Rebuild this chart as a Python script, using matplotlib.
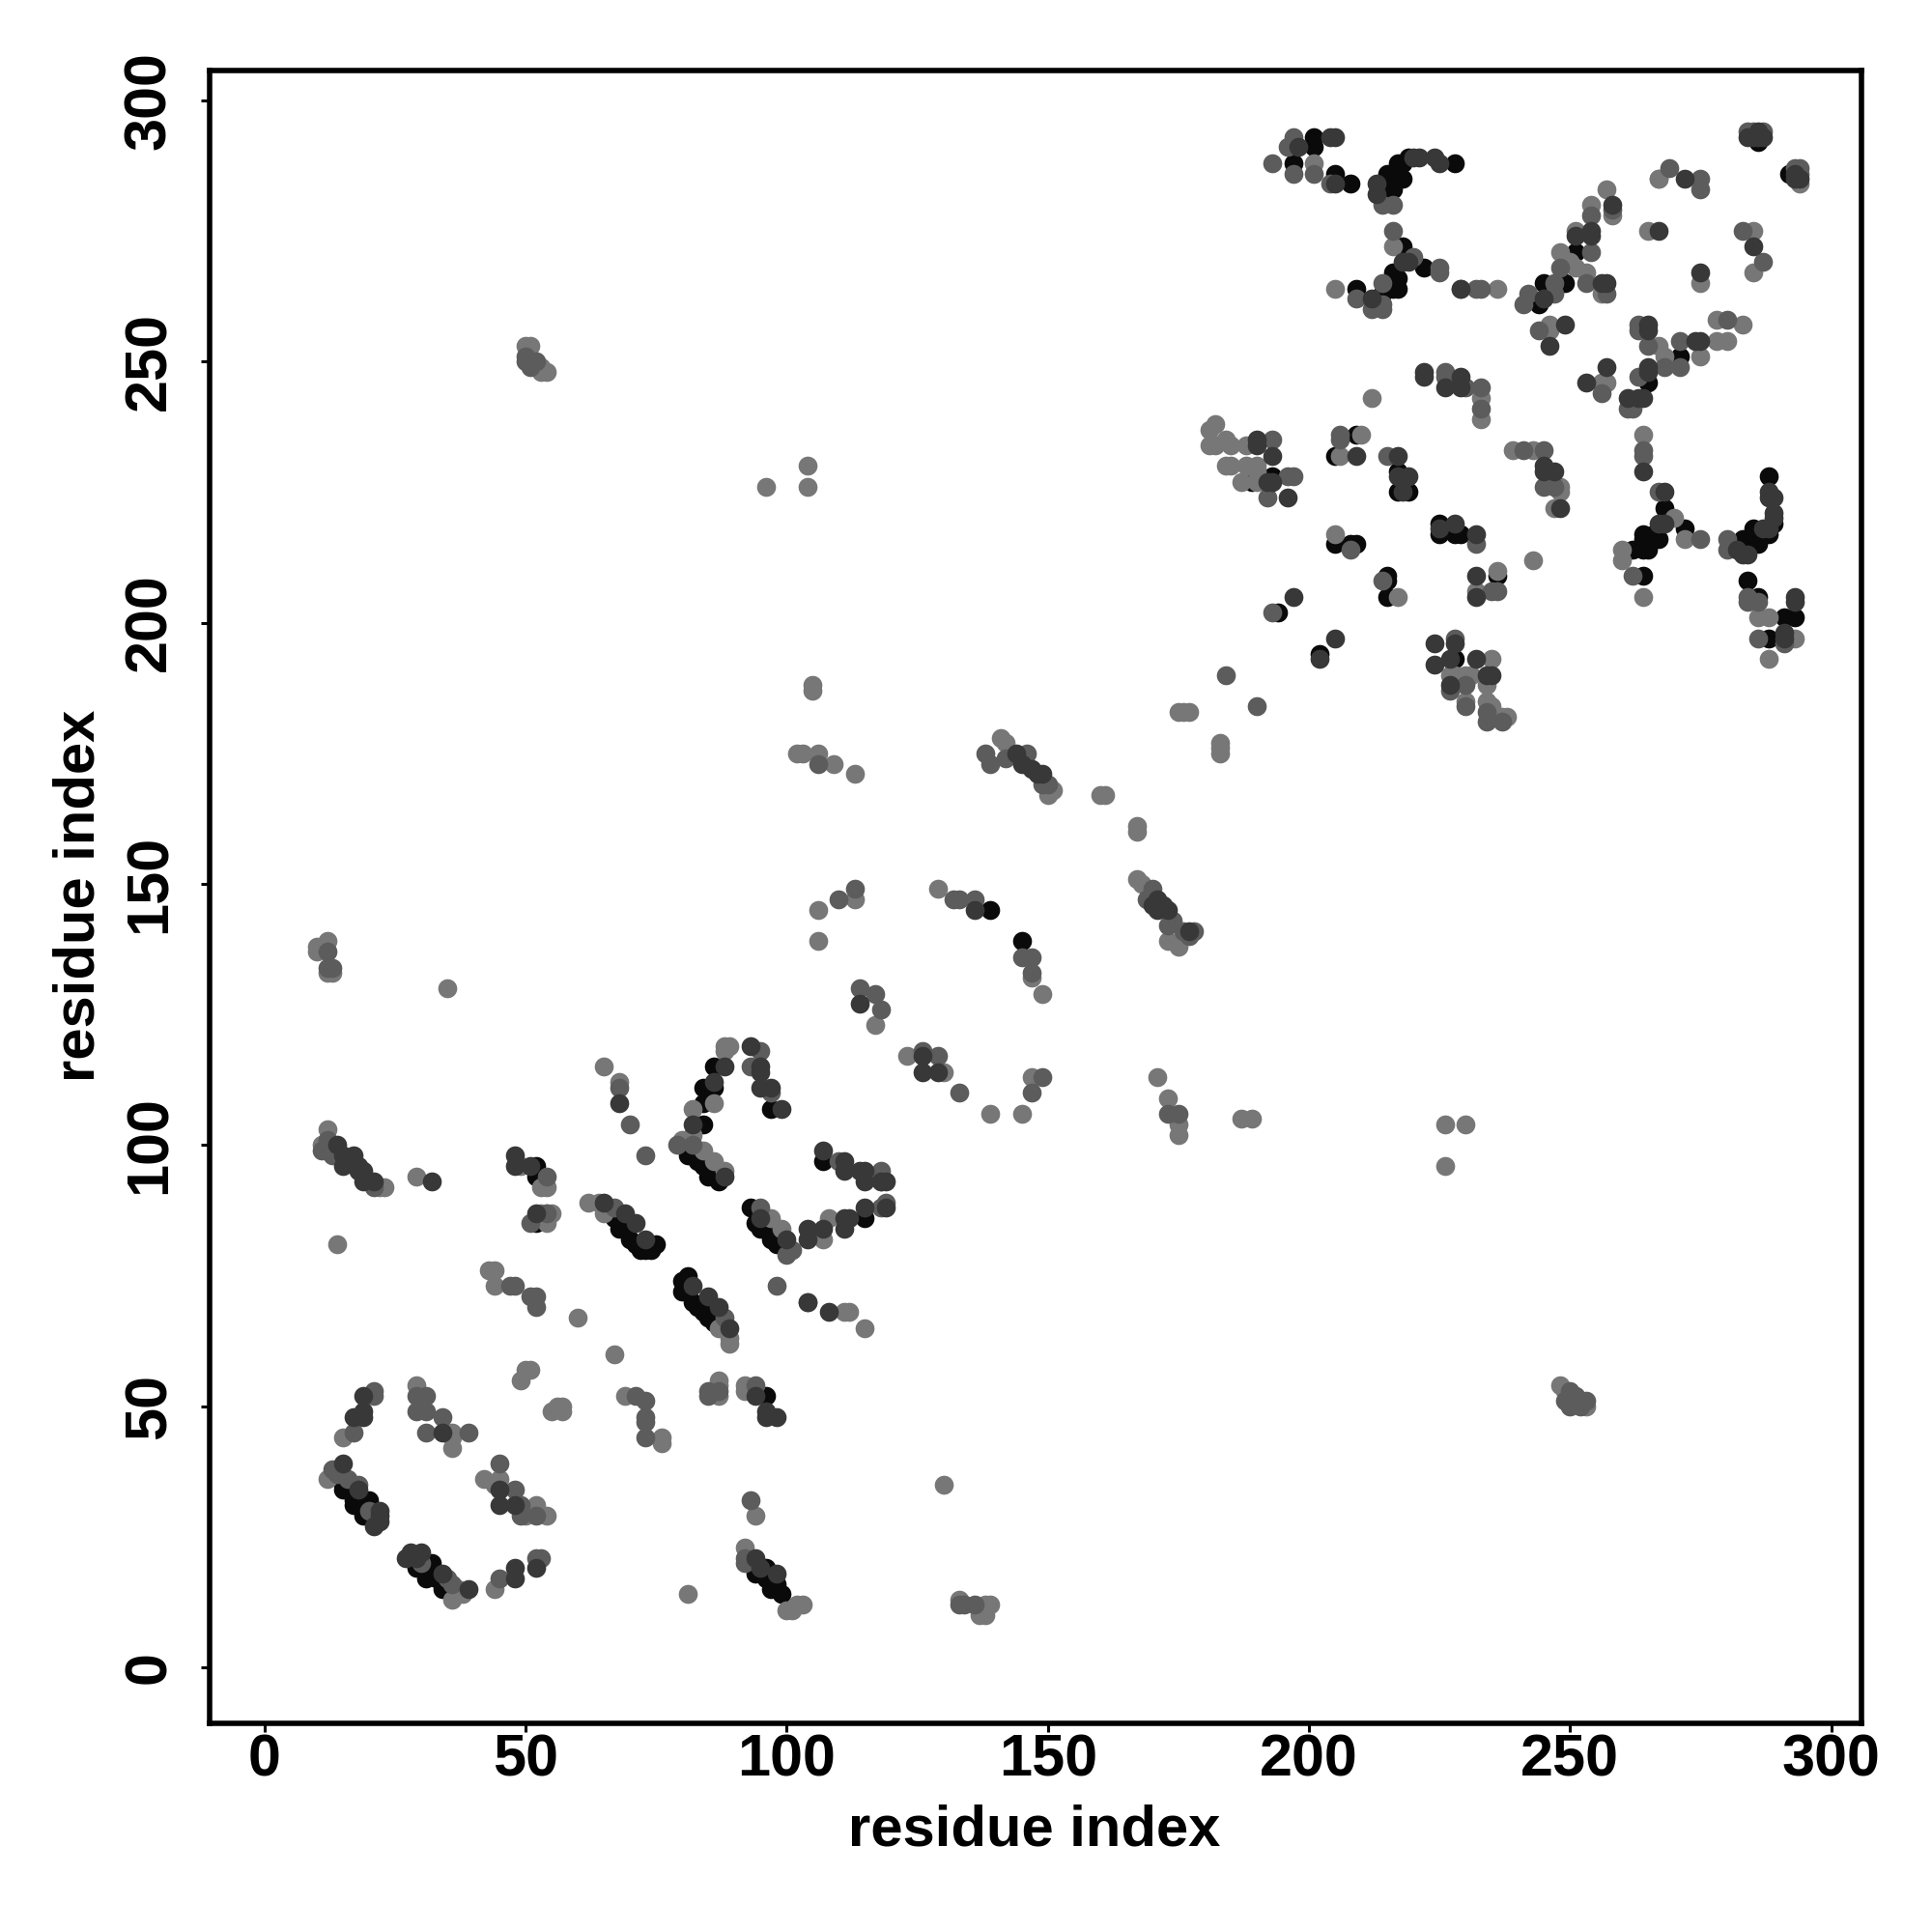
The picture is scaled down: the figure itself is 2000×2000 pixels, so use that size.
import numpy as np
import matplotlib
matplotlib.use('Agg')
import matplotlib.pyplot as plt

# contacts (residue i, residue j), grouped by how dark the dot is
black_pts = [(15,35),(15,34),(19,32),(20,32),(17,31),(19,29),(17,32),(16,34),(18,32),(18,31),(29,19),(32,20),(32,18),(31,17),(34,15),(30,19),(33,17),
    (52,96),(52,94),(52,85),(67,86),(68,84),(70,82),(72,80),(75,81),(74,80),(66,87),(69,84),(71,81),(73,80),(81,75),(80,74),(80,72),(82,70),(84,68),(86,66),(81,72),(83,69),(85,67),
    (81,98),(84,104),(84,108),(84,111),(86,111),(86,115),(84,96),(85,94),(87,93),(83,97),(86,94),(97,107),(107,97),(93,88),(94,85),(96,84),(98,81),(95,84),(97,82),
    (115,86),(96,52),(145,139),(139,145),(96,19),(94,18),(96,17),(98,16),(99,14),(97,15),
    (197,288),(201,293),(201,291),(205,286),(208,284),(228,288),(219,289),(218,288),(217,288),(218,285),(215,286),(216,283),(214,283),
    (218,272),(222,268),(216,267),(217,266),(215,265),(217,264),(214,263),(209,264),(216,264),(244,261),(245,265),(249,265),(251,271),(271,251),(265,246),
    (193,228),(189,227),(209,236),(205,232),(217,229),(217,225),(219,225),
    (268,222),(272,218),(264,217),(266,217),(265,215),(264,214),(262,214),(264,216),(267,216),(265,214),(264,209),
    (283,216),(285,218),(285,215),(286,215),(288,217),(289,219),(288,228),(284,208),(286,205),(288,197),(291,201),(293,201),(286,292),(292,286),
    (194,202),(202,194),(205,215),(208,215),(209,215),(215,209),(215,208),(215,205),(225,219),(225,217),(228,217),(229,217),(236,209),(228,193)]

light_pts = [(14,81),(43,76),(44,76),(44,73),(60,67),(67,60),(50,57),(49,55),(51,57),(57,50),(55,49),(57,49),(56,50),
    (69,52),(76,44),(76,43),(87,55),(87,54),(87,52),(92,53),(92,54),(15,44),(29,54),(36,45),(36,44),(36,42),(12,36),(42,36),(45,36),(44,35),
    (52,31),(50,29),(54,29),(37,15),(36,13),(38,14),(44,15),(81,14),(65,115),(68,112),(49,96),(54,92),(53,92),(54,87),(55,87),(54,85),(53,87),
    (62,89),(64,89),(65,87),(87,65),(89,62),(89,63),(80,101),(82,102),(82,107),(86,108),(84,99),(86,97),(88,95),(88,119),(89,119),(88,118),
    (97,86),(99,84),(107,82),(108,86),(111,68),(112,68),(115,65),(96,226),(104,230),(104,226),(105,188),(105,187),(102,175),(103,175),(106,175),(109,173),(113,171),
    (106,139),(106,145),(113,147),(117,123),(123,117),(130,114),(139,106),(145,106),(147,113),(129,149),(147,132),(149,129),(141,178),(142,177),
    (150,167),(151,168),(160,167),(161,167),(167,161),(167,160),(167,151),(168,150),(173,139),(175,138),(171,113),(173,109),(175,102),(175,104),(187,105),(189,105),
    (226,104),(230,104),(226,96),(248,54),(249,53),(253,50),(10,137),(10,138),(12,139),(12,133),(13,133),(35,130),(12,103),(11,100),(23,92),(22,92),(29,94),
    (50,253),(51,253),(54,248),(53,248),(53,249),(130,35),(94,29),(92,23),(100,11),(101,11),(102,12),(103,12),(133,13),(137,10),(138,10),(139,12),(138,12),
    (201,288),(205,264),(216,272),(236,264),(248,271),(251,275),(250,269),(251,268),(253,267),(254,280),(257,283),(258,278),(256,263),(267,285),
    (265,275),(275,265),(285,275),(285,267),(294,284),(246,257),(246,256),(267,253),(268,251),(278,254),(280,254),(278,258),(283,257),(275,251),
    (256,246),(257,246),(182,238),(181,237),(181,234),(182,234),(184,235),(185,234),(188,234),(184,230),(185,230),(188,230),(190,230),(190,229),(187,227),(190,227),
    (212,243),(206,232),(210,236),(233,243),(233,239),(239,233),(243,233),(248,226),(248,225),(247,222),(243,212),(264,236),(267,285),
    (270,220),(272,216),(260,214),(260,212),(264,205),(286,201),(288,201),(288,193),(293,197),(205,217),(217,205),(236,210),(232,206),
    (235,193),(227,190),(230,190),(228,190),(231,190),(234,188),(230,185),(234,185),(235,184),(238,182),(237,182),(177,183),(176,183),(175,183),(183,177),(183,175),(183,176)]

mid_pts = [(51,85),(54,87),(47,73),(48,73),(51,71),(52,71),(52,69),(71,52),(73,51),(73,48),(73,47),(73,44),(85,53),(85,52),(87,53),
    (21,53),(21,52),(17,45),(29,52),(31,52),(29,49),(31,49),(34,48),(31,45),(39,45),(45,39),(48,34),(49,31),(49,29),(52,29),
    (14,37),(16,36),(13,38),(18,35),(20,30),(30,20),(35,17),(36,16),(45,17),(52,21),(53,21),(68,111),(70,104),(73,98),(54,94),(67,88),
    (79,100),(82,100),(88,67),(94,54),(93,115),(95,118),(97,110),(110,97),(118,95),(118,93),(95,88),(100,79),(101,80),(118,88),(119,89),(98,73),
    (106,173),(110,147),(113,149),(114,130),(117,129),(118,126),(126,118),(129,117),(133,110),(147,110),(149,113),(132,147),(133,147),(136,147),(145,136),(147,136),(147,133),
    (138,175),(139,173),(142,174),(146,175),(150,169),(149,169),(170,149),(169,147),(173,142),(174,143),(176,141),(178,141),(177,140),(173,106),(175,106),
    (249,51),(250,50),(250,53),(251,52),(252,50),(253,51),(12,137),(12,134),(13,134),(11,99),(12,101),(12,100),(13,100),(13,98),(21,92),
    (50,251),(50,250),(51,250),(52,250),(51,249),(93,32),(92,20),(92,21),(104,70),(133,12),(134,12),(136,12),
    (193,288),(197,293),(196,291),(197,286),(201,286),(204,284),(216,275),(220,270),(225,268),(225,267),(214,280),(216,280),(214,265),(212,260),(214,260),(214,261),
    (209,262),(229,264),(232,264),(233,264),(241,261),(242,263),(247,263),(247,265),(248,268),(253,265),(254,271),(254,278),(258,279),(257,263),(269,287),(275,285),(275,283),
    (283,275),(287,269),(287,294),(284,294),(285,294),(294,287),(294,286),(293,287),(244,256),(263,257),(263,256),(265,253),(271,254),(280,258),(271,249),(268,249),(263,247),(261,241),(262,241),(256,244),
    (193,235),(196,228),(197,228),(192,224),(206,236),(206,235),(215,232),(226,248),(226,247),(230,245),(233,245),(233,241),(241,233),(245,233),(245,226),(247,226),(264,233),(264,232),
    (267,225),(275,216),(280,216),(280,214),(262,209),(284,205),(284,204),(286,204),(286,197),(291,196),(193,202),(184,190),(190,184),(208,214),(214,208),(232,215),
    (235,206),(236,206),(228,197),(227,187),(230,188),(230,184),(234,183),(234,181),(237,181)]

dark_pts = [(52,87),(19,52),(19,49),(19,48),(17,48),(34,45),(15,39),(18,34),(22,30),(22,29),(21,27),(22,28),(45,34),(45,31),(48,31),
    (27,21),(28,22),(30,22),(29,21),(34,18),(39,15),(48,19),(48,17),(52,19),(68,108),(48,98),(48,96),(51,96),(65,89),(69,87),(71,85),(73,82),(82,73),(85,71),(87,69),(89,65),
    (82,104),(86,112),(88,115),(88,94),(93,119),(95,115),(95,114),(95,111),(97,111),(99,107),(107,99),(111,97),(111,95),(114,95),(115,95),(115,93),(118,93),(119,93),
    (95,86),(100,82),(104,84),(104,82),(107,84),(111,84),(111,86),(112,86),(115,88),(119,88),(104,70),(108,68),(94,52),(96,49),(96,48),(98,48),
    (114,127),(126,117),(126,114),(129,114),(136,145),(144,175),(145,173),(147,172),(148,171),(149,171),(171,147),(170,146),(172,146),(173,145),(171,145),(177,141),(14,100),(15,98),(15,96),(17,98),
    (18,95),(18,96),(19,95),(19,93),(21,93),(32,93),(94,21),(95,19),(98,18),(198,291),(204,293),(205,293),(205,284),(225,288),(224,289),(221,289),(220,289),(213,284),(213,282),
    (218,269),(219,269),(212,262),(229,264),(245,262),(251,274),(258,280),(254,275),(254,274),(257,265),(256,265),(272,285),(267,275),(285,272),(275,267),
    (285,293),(284,293),(286,293),(287,293),(286,294),(294,285),(293,285),(293,286),(249,257),(246,253),
    (265,257),(265,256),(275,254),(274,254),(265,249),(265,248),(261,243),(263,243),(264,243),(257,249),(253,246),(190,235),(190,234),(193,232),(192,227),(193,227),(196,224),(209,232),(217,232),(219,228),(217,228),(218,225),
    (222,248),(222,247),(226,245),(229,247),(229,245),(245,230),(247,229),(245,229),(248,222),(264,229),(268,225),(267,219),(268,219),(282,214),(283,213),(284,213),(287,218),(288,218),(289,221),(289,220),(288,225),(289,224),(288,224),
    (291,197),(291,198),(293,205),(293,204),(197,205),(202,193),(205,197),(225,218),(228,219),(232,217),(232,209),(232,205),(224,196),(224,192),(228,196),(227,193),(232,193),(234,190),(235,190),(227,188)]

# draw order: black underneath, then the lighter ones, dark on top
shades = [('#0a0a0a', black_pts), ('#777777', light_pts), ('#5c5c5c', mid_pts), ('#383838', dark_pts)]
tick_vals = [0, 50, 100, 150, 200, 250, 300]

fig = plt.figure(figsize=(10, 10), dpi=200)
ax = fig.add_axes([217/2000, 1-1784/2000, (1927-217)/2000, (1784-73)/2000])
for color, pts in shades:
    pts = np.array(pts)
    ax.scatter(pts[:,0], pts[:,1], s=50, c=color, linewidths=0)

ax.set_xlim(-10.5, 305.8)
ax.set_ylim(-10.7, 305.7)
ax.set_xticks(tick_vals)
ax.set_yticks(tick_vals)
font = {'family': 'Liberation Sans', 'weight': 'bold', 'size': 22}
ax.set_xticklabels(tick_vals, **font)
ax.set_yticklabels(tick_vals, rotation=90, va='center', **font)
ax.tick_params(width=1.1, length=3.4, color='black')
ax.tick_params(axis='x', pad=0.5)
ax.tick_params(axis='y', pad=8.4)
for s in ax.spines.values():
    s.set_linewidth(2.0)
label_font = {'family': 'Liberation Sans', 'weight': 'bold', 'size': 21.5}
fig.text(1071/2000, 1-1895/2000, 'residue index', ha='center', va='center', **label_font)
fig.text(82/2000, 1-927/2000, 'residue index', ha='center', va='center', rotation=90, **label_font)
fig.savefig('out.png', dpi=200)
